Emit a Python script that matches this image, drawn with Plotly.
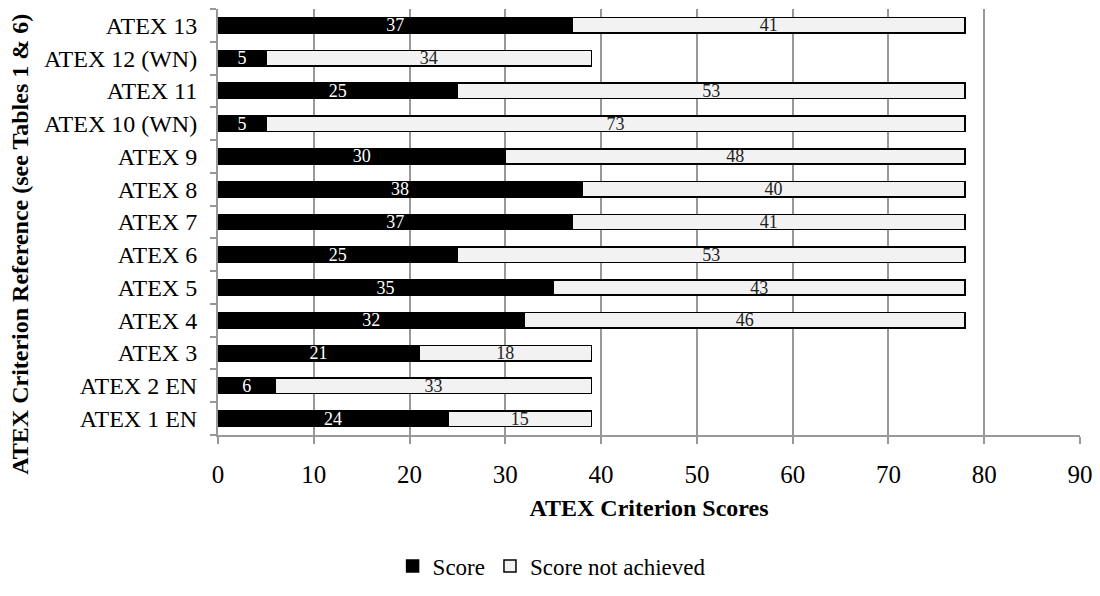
import plotly.graph_objects as go

# ATEX criteria, listed bottom to top
criteria = ["ATEX 1 EN", "ATEX 2 EN", "ATEX 3", "ATEX 4", "ATEX 5", "ATEX 6",
            "ATEX 7", "ATEX 8", "ATEX 9", "ATEX 10 (WN)", "ATEX 11",
            "ATEX 12 (WN)", "ATEX 13"]
score = [24, 6, 21, 32, 35, 25, 37, 38, 30, 5, 25, 5, 37]
not_achieved = [15, 33, 18, 46, 43, 53, 41, 40, 48, 73, 53, 34, 41]
x_ticks = [0, 10, 20, 30, 40, 50, 60, 70, 80, 90]

FONT = "Liberation Serif, Times New Roman, serif"
GRID = "#989898"

fig = go.Figure()
fig.add_trace(go.Bar(
    y=criteria, x=score, orientation="h", name="Score",
    marker=dict(color="#000000", line=dict(color="#000000", width=1.5)),
    text=[str(v) for v in score], textposition="inside", textangle=0,
    insidetextanchor="middle", constraintext="none",
    textfont=dict(family=FONT, size=18, color="#ffffff"),
))
fig.add_trace(go.Bar(
    y=criteria, x=not_achieved, orientation="h", name="Score not achieved",
    marker=dict(color="#f2f2f2", line=dict(color="#000000", width=1.5)),
    text=[str(v) for v in not_achieved], textposition="inside", textangle=0,
    insidetextanchor="middle", constraintext="none",
    textfont=dict(family=FONT, size=18, color="#222222"),
))

fig.update_layout(
    width=1100, height=596,
    barmode="stack", bargap=0.53,
    plot_bgcolor="#ffffff", paper_bgcolor="#ffffff",
    margin=dict(l=218, r=20, t=9, b=148),
    font=dict(family=FONT, color="#000000"),
    showlegend=True,
    legend=dict(orientation="h", x=0.387, xanchor="center", y=-0.3075,
                yanchor="middle", font=dict(family=FONT, size=23),
                itemwidth=30, traceorder="normal"),
    xaxis=dict(
        range=[0, 90], tickvals=x_ticks, ticktext=[str(v) for v in x_ticks],
        showgrid=True, gridcolor=GRID, gridwidth=2,
        showline=True, linecolor=GRID, linewidth=2,
        ticks="outside", ticklen=7, tickcolor=GRID, tickwidth=2,
        tickfont=dict(family=FONT, size=25), ticklabelstandoff=9,
        zeroline=False, automargin=False,
        title=dict(text="<b>ATEX Criterion Scores</b>",
                   font=dict(family=FONT, size=24), standoff=12),
    ),
    yaxis=dict(
        categoryorder="array", categoryarray=criteria,
        range=[-0.5, len(criteria) - 0.5],
        showgrid=False, showline=True, linecolor=GRID, linewidth=2,
        ticks="outside", tickson="boundaries", ticklen=6,
        tickcolor=GRID, tickwidth=2, automargin=False,
        tickfont=dict(family=FONT, size=24), ticklabelstandoff=14,
    ),
    annotations=[dict(
        text="<b>ATEX Criterion Reference (see Tables 1 &amp; 6)</b>",
        textangle=-90, xref="paper", yref="paper",
        x=-0.229, y=0.448, xanchor="center", yanchor="middle",
        showarrow=False, font=dict(family=FONT, size=24),
    )],
)

fig.write_html("out.html")
